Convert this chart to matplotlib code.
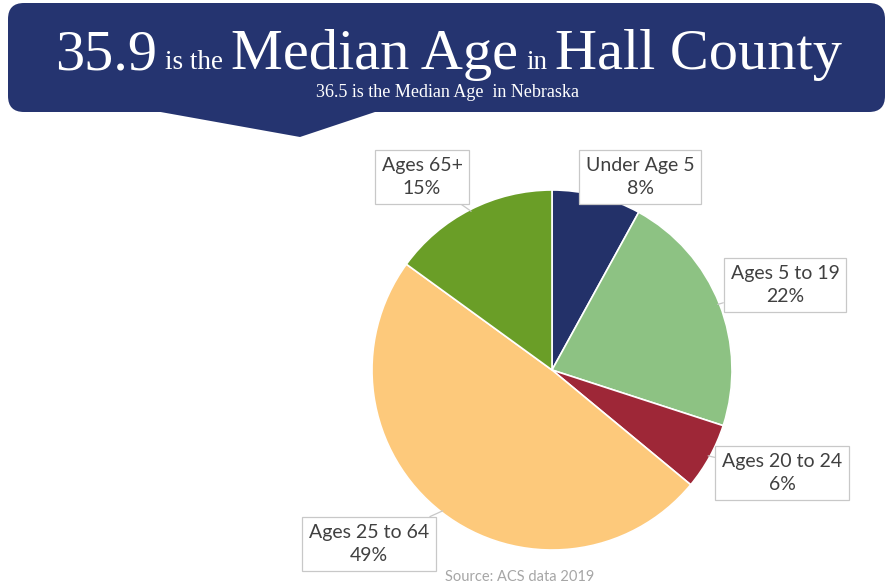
import numpy as np
import matplotlib.pyplot as plt
from matplotlib.patches import FancyBboxPatch, Polygon

# 数据
labels = ['Under Age 5', 'Ages 5 to 19', 'Ages 20 to 24', 'Ages 25 to 64', 'Ages 65+']
shares = [8, 22, 6, 49, 15]
colors = ['#233169', '#8DC283', '#9E2737', '#FDC97B', '#6A9E27']
# 标签中心位置（像素，左上为原点）
label_pos = [(640, 177), (785, 285), (782, 473), (369, 544), (422, 177)]

title_parts = [('35.9', 'big'), ('is the', 'small'), ('Median Age', 'big'),
               ('in', 'small'), ('Hall County', 'big')]
subtitle = '36.5 is the Median Age  in Nebraska'
source = 'Source: ACS data 2019'

W, H = 887, 588
fig = plt.figure(figsize=(W / 100, H / 100), dpi=100)
fig.patch.set_facecolor('white')

# 背景层，像素坐标
bg = fig.add_axes([0, 0, 1, 1])
bg.set_xlim(0, W)
bg.set_ylim(H, 0)
bg.axis('off')

banner_col = '#253470'
bg.add_patch(FancyBboxPatch((8, 3), 877, 109, boxstyle='round,pad=0,rounding_size=16',
                            fc=banner_col, ec='none'))
bg.add_patch(Polygon([(155, 111), (300, 137), (378, 111)], closed=True,
                     fc=banner_col, ec='none'))

# 标题：分段排版
serif = 'Liberation Serif'
sizes = {'big': 42, 'small': 19.5}
fig.canvas.draw()
renderer = fig.canvas.get_renderer()
texts = []
total = 0
space = 8
for s, kind in title_parts:
    t = bg.text(0, 69, s, fontsize=sizes[kind], family=serif, color='white',
                va='baseline', ha='left')
    w = t.get_window_extent(renderer).width
    texts.append((t, w))
    total += w
total += space * (len(title_parts) - 1)
x = (W - total) / 2 + 5
for t, w in texts:
    t.set_x(x)
    x += w + space

bg.text(448, 97, subtitle, fontsize=13, family=serif, color='white',
        ha='center', va='baseline')

bg.text(520, 577, source, fontsize=10.5, family='Lato', color='#A6A6A6',
        ha='center', va='center')

# 饼图
cx, cy, r = 552, 370, 180
pie_ax = fig.add_axes([(cx - r) / W, (H - cy - r) / H, 2 * r / W, 2 * r / H])
wedges, _ = pie_ax.pie(shares, colors=colors, startangle=90, counterclock=False,
                       wedgeprops=dict(edgecolor='white', linewidth=1.2))
pie_ax.set_xlim(-1, 1)
pie_ax.set_ylim(-1, 1)
pie_ax.set_aspect('equal')

for wdg, lab, val, (lx, ly) in zip(wedges, labels, shares, label_pos):
    mid = np.deg2rad((wdg.theta1 + wdg.theta2) / 2)
    pie_ax.annotate(f'{lab}\n{val}%', xy=(0.99 * np.cos(mid), 0.99 * np.sin(mid)),
                    xycoords='data', xytext=(lx, H - ly), textcoords='figure pixels',
                    ha='center', va='center', fontsize=14, family='Lato',
                    color='#404040', linespacing=1.45,
                    bbox=dict(boxstyle='square,pad=0.35', fc='white', ec='#C8C8C8', lw=0.9),
                    arrowprops=dict(arrowstyle='-', color='#C8C8C8', lw=0.9,
                                    shrinkA=0, shrinkB=0),
                    zorder=5)

fig.savefig('out.png', dpi=100)
